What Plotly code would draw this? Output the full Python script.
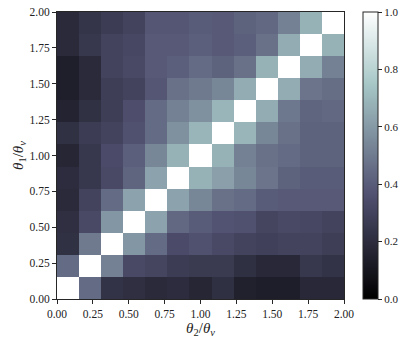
"""Correlation map of theta_1 vs theta_2, bone colormap."""

import plotly.graph_objects as go

N_BINS = 13
BIN_WIDTH = 2.0 / N_BINS
bin_centers = [BIN_WIDTH * (k + 0.5) for k in range(N_BINS)]

tick_vals = [0.0, 0.25, 0.5, 0.75, 1.0, 1.25, 1.5, 1.75, 2.0]
tick_text = ["0.00", "0.25", "0.50", "0.75", "1.00", "1.25", "1.50", "1.75", "2.00"]
cbar_ticks = [0.0, 0.2, 0.4, 0.6, 0.8, 1.0]

# rows from theta_1 = 0 (bottom) upward, columns along theta_2
row_00 = [1.00, 0.45, 0.23, 0.21, 0.19, 0.20, 0.17, 0.215, 0.15, 0.135, 0.135, 0.18, 0.18]
row_01 = [0.45, 1.00, 0.52, 0.33, 0.31, 0.27, 0.26, 0.26, 0.215, 0.18, 0.18, 0.25, 0.23]
row_02 = [0.22, 0.50, 1.00, 0.59, 0.45, 0.34, 0.36, 0.33, 0.30, 0.29, 0.30, 0.30, 0.28]
row_03 = [0.21, 0.33, 0.59, 1.00, 0.63, 0.44, 0.40, 0.37, 0.36, 0.31, 0.33, 0.32, 0.30]
row_04 = [0.19, 0.30, 0.45, 0.63, 1.00, 0.63, 0.54, 0.47, 0.45, 0.40, 0.39, 0.39, 0.39]
row_05 = [0.20, 0.25, 0.33, 0.43, 0.63, 1.00, 0.68, 0.62, 0.54, 0.48, 0.42, 0.40, 0.40]
row_06 = [0.17, 0.25, 0.34, 0.41, 0.54, 0.68, 1.00, 0.68, 0.52, 0.47, 0.45, 0.42, 0.42]
row_07 = [0.22, 0.27, 0.30, 0.36, 0.45, 0.57, 0.69, 1.00, 0.69, 0.54, 0.47, 0.42, 0.42]
row_08 = [0.16, 0.22, 0.28, 0.35, 0.45, 0.52, 0.57, 0.69, 1.00, 0.66, 0.49, 0.43, 0.44]
row_09 = [0.14, 0.19, 0.28, 0.30, 0.38, 0.47, 0.50, 0.54, 0.66, 1.00, 0.66, 0.48, 0.46]
row_10 = [0.14, 0.19, 0.30, 0.33, 0.39, 0.41, 0.45, 0.42, 0.47, 0.68, 1.00, 0.66, 0.52]
row_11 = [0.19, 0.25, 0.30, 0.32, 0.39, 0.39, 0.41, 0.39, 0.41, 0.47, 0.66, 1.00, 0.68]
row_12 = [0.19, 0.24, 0.27, 0.30, 0.38, 0.38, 0.40, 0.39, 0.42, 0.44, 0.52, 0.68, 1.00]

z_values = [
    row_00, row_01, row_02, row_03, row_04, row_05, row_06,
    row_07, row_08, row_09, row_10, row_11, row_12,
]

# matplotlib "bone"
BONE_SCALE = [
    [0.0, "rgb(0, 0, 0)"],
    [0.365079, "rgb(81, 81, 113)"],
    [0.746032, "rgb(166, 198, 198)"],
    [1.0, "rgb(255, 255, 255)"],
]

FONT_FAMILY = "Liberation Serif, DejaVu Serif, serif"
FRAME_COLOR = "#262626"

fig = go.Figure(
    go.Heatmap(
        z=z_values,
        x=bin_centers,
        y=bin_centers,
        zmin=0,
        zmax=1,
        colorscale=BONE_SCALE,
        showscale=True,
        colorbar={
            "x": 1.066,
            "xanchor": "left",
            "y": 0.5,
            "yanchor": "middle",
            "len": 1.0,
            "thickness": 15,
            "outlinecolor": FRAME_COLOR,
            "outlinewidth": 1,
            "tickvals": cbar_ticks,
            "tickformat": ".1f",
            "ticks": "outside",
            "ticklen": 4,
            "tickcolor": FRAME_COLOR,
            "tickfont": {"family": FONT_FAMILY, "size": 11, "color": "#222"},
            "xpad": 0,
            "ypad": 0,
        },
        hovertemplate="θ2=%{x:.2f}<br>θ1=%{y:.2f}<br>%{z:.2f}<extra></extra>",
    )
)

axis_common = {
    "range": [0, 2],
    "tickvals": tick_vals,
    "ticktext": tick_text,
    "ticks": "outside",
    "ticklen": 4,
    "tickcolor": FRAME_COLOR,
    "showline": True,
    "linecolor": FRAME_COLOR,
    "linewidth": 1,
    "mirror": True,
    "showgrid": False,
    "zeroline": False,
    "tickfont": {"family": FONT_FAMILY, "size": 11.5, "color": "#222"},
}

fig.update_xaxes(
    **axis_common,
    title={
        "text": "<i>θ</i><sub>2</sub>/<i>θ</i><sub><i>v</i></sub>",
        "font": {"family": FONT_FAMILY, "size": 15, "color": "#222"},
        "standoff": 2,
    },
)
fig.update_yaxes(
    **axis_common,
    title={
        "text": "<i>θ</i><sub>1</sub>/<i>θ</i><sub><i>v</i></sub>",
        "font": {"family": FONT_FAMILY, "size": 15, "color": "#222"},
        "standoff": 2,
    },
)

fig.update_layout(
    width=407,
    height=346,
    margin={"t": 12, "l": 57, "r": 63, "b": 47, "autoexpand": False},
    paper_bgcolor="white",
    plot_bgcolor="white",
)

# drop the browser's default body margin so the figure sits at the page corner
fig.write_html(
    "out.html",
    config={"displayModeBar": False},
    post_script="document.body.style.margin = '0';",
)
